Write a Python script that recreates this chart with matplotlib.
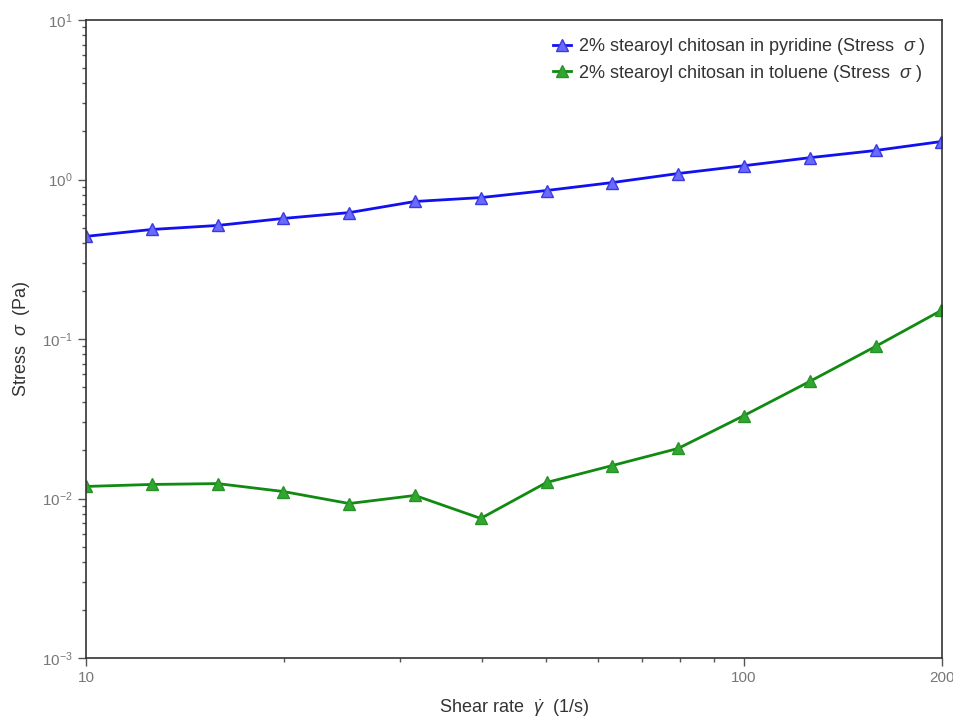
import matplotlib
matplotlib.use("Agg")
import matplotlib.pyplot as plt
from matplotlib.ticker import FixedLocator, FixedFormatter, LogLocator, NullFormatter

plt.rcParams['font.family'] = ['Liberation Sans', 'DejaVu Sans']
plt.rcParams['mathtext.fontset'] = 'custom'
plt.rcParams['mathtext.rm'] = 'Liberation Sans'
plt.rcParams['mathtext.it'] = 'Liberation Sans:italic'
plt.rcParams['axes.unicode_minus'] = False

shear_rate = [10, 12.59, 15.85, 19.95, 25.12, 31.62, 39.81, 50.12, 63.1, 79.43,
              100, 125.9, 158.5, 199.5]
stress_pyridine = [0.44, 0.486, 0.515, 0.57, 0.62, 0.728, 0.77, 0.853, 0.957, 1.09,
                   1.22, 1.37, 1.52, 1.73]
stress_toluene = [0.0119, 0.01225, 0.0124, 0.01106, 0.0093, 0.01045, 0.0075, 0.0126,
                  0.0161, 0.0206, 0.0331, 0.0542, 0.0898, 0.151]
labels = ['2% stearoyl chitosan in pyridine (Stress  $\\sigma$ )',
          '2% stearoyl chitosan in toluene (Stress  $\\sigma$ )']

fig = plt.figure(figsize=(9.54, 7.2), dpi=100)
ax = fig.add_axes([86/954, 1-658/720, (942-86)/954, (658-20)/720])

ax.plot(shear_rate, stress_pyridine, '-^', color='#1010f0', lw=2,
        mfc='#6a6aff', mec='#3a3ae0', ms=8, label=labels[0])
ax.plot(shear_rate, stress_toluene, '-^', color='#108a10', lw=2,
        mfc='#30a830', mec='#2a902a', ms=8, label=labels[1])

ax.set_xscale('log')
ax.set_yscale('log')
ax.set_xlim(10, 200)
ax.set_ylim(1e-3, 10)

ax.xaxis.set_major_locator(FixedLocator([10, 100, 200]))
ax.xaxis.set_major_formatter(FixedFormatter(['10', '100', '200']))
ax.xaxis.set_minor_locator(FixedLocator([20, 30, 40, 50, 60, 70, 80, 90]))
ax.xaxis.set_minor_formatter(NullFormatter())
ax.yaxis.set_minor_locator(LogLocator(base=10, subs=range(2, 10)))
ax.yaxis.set_minor_formatter(NullFormatter())

ax.tick_params(which='both', direction='out', top=False, right=False,
               colors='#555555', labelsize=11, labelcolor='#777777')
ax.tick_params(which='major', length=6, width=1)
ax.tick_params(which='minor', length=3, width=1)
for s in ax.spines.values():
    s.set_color('#333333')
    s.set_linewidth(1.2)

ax.set_xlabel('Shear rate  $\\dot{\\gamma}$  (1/s)', fontsize=13, color='#333333',
              labelpad=9)
ax.set_ylabel('Stress  $\\sigma$  (Pa)', fontsize=13, color='#333333',
              labelpad=7)

ax.legend(loc='upper right', frameon=False, fontsize=13, handlelength=1.0,
          handletextpad=0.4, labelspacing=0.3, borderaxespad=0.5,
          labelcolor='#333333')

fig.savefig('out.png', dpi=100)
